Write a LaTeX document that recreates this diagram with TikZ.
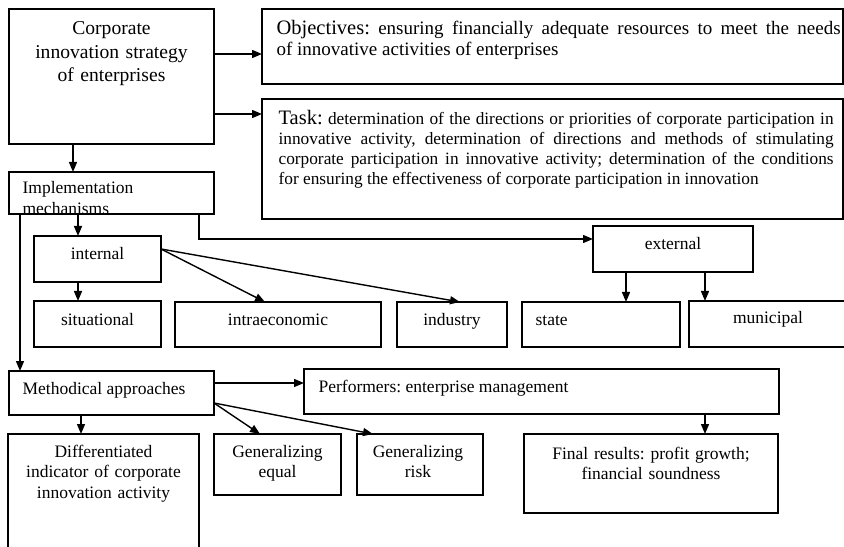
\documentclass[tikz,border=0pt]{standalone}
\usepackage{fontspec}
\setmainfont{Liberation Serif}
\usetikzlibrary{arrows.meta}

\begin{document}
\frenchspacing
\begin{tikzpicture}[x=1bp, y=-1bp, line width=1.2bp,
  box/.style={draw, inner sep=0, outer sep=0, anchor=north west},
  txt/.style={inner sep=0, font=\fontsize{17.5bp}{20.5bp}\selectfont},
  ctxt/.style={txt, anchor=base, text width=#1, align=center},
  arr/.style={-{Triangle[length=10bp,width=8bp]}, line width=1.4bp}]

\useasboundingbox (0,0) rectangle (844,547);
\fill[white] (0,0) rectangle (844,547);
\clip (0,0) rectangle (844,547);
\hyphenpenalty=10000

% ---------- boxes ----------
\node[box, minimum width=205bp, minimum height=135bp] (corp)     at (9,9)    {};
\node[box, minimum width=581bp, minimum height=75bp]  (obj)      at (262,9)  {};
\node[box, minimum width=581bp, minimum height=120bp] (task)     at (262,99) {};
\node[box, minimum width=205bp, minimum height=42bp]  (impl)     at (9,172)  {};
\node[box, minimum width=127bp, minimum height=46bp]  (internal) at (34,236) {};
\node[box, minimum width=127bp, minimum height=46bp]  (situ)     at (34,301) {};
\node[box, minimum width=206bp, minimum height=45bp]  (intra)    at (175,302) {};
\node[box, minimum width=110bp, minimum height=45bp]  (indus)    at (397,302) {};
\node[box, minimum width=158bp, minimum height=45bp]  (state)    at (522,302) {};
\node[box, minimum width=160bp, minimum height=46bp]  (munic)    at (689,301) {};
\node[box, minimum width=160bp, minimum height=46bp]  (external) at (593,226) {};
\node[box, minimum width=205bp, minimum height=44bp]  (meth)     at (9,371)  {};
\node[box, minimum width=475bp, minimum height=45bp]  (perf)     at (304,369) {};
\node[box, minimum width=191bp, minimum height=130bp] (diff)     at (8,434)  {};
\node[box, minimum width=127bp, minimum height=61bp]  (geneq)    at (214,434) {};
\node[box, minimum width=126bp, minimum height=61bp]  (genrisk)  at (357,434) {};
\node[box, minimum width=254bp, minimum height=79bp]  (final)    at (524,434) {};

% ---------- texts ----------
\node[ctxt=200bp, font=\fontsize{19.6bp}{23.5bp}\selectfont] (corpT) at (111.5,35)
  {Corporate\\innovation strategy\\of enterprises};

\node[txt, anchor=base west, text width=564bp, align=justify,
      font=\fontsize{19bp}{21bp}\selectfont] (objT) at (276,35)
  {{\fontsize{20.5bp}{21bp}\selectfont Objectives:} ensuring financially adequate resources to meet the needs\linebreak
   of innovative activities of enterprises};

\node[txt, anchor=base west, text width=555bp, align=justify,
      font=\fontsize{17.3bp}{20bp}\selectfont] (taskT) at (278,125)
  {{\fontsize{20.5bp}{20bp}\selectfont Task:} determination of the directions or priorities of corporate participation in\linebreak
   innovative activity, determination of directions and methods of stimulating\linebreak
   corporate participation in innovative activity; determination of the conditions\linebreak
   for ensuring the effectiveness of corporate participation in innovation};

\begin{scope}
  \clip (impl.north west) rectangle (impl.south east);
  \node[txt, anchor=base west, text width=190bp, align=left,
        font=\fontsize{17.5bp}{21bp}\selectfont] (implT) at (22,194)
    {Implementation\\mechanisms};
\end{scope}

\node[txt, anchor=base] (internalT) at (97.5,260) {internal};
\node[txt, anchor=base] (situT)     at (97.5,326) {situational};
\node[txt, anchor=base] (intraT)    at (278,326)  {intraeconomic};
\node[txt, anchor=base] (indusT)    at (452,326)  {industry};
\node[txt, anchor=base west] (stateT) at (535,326) {state};
\node[txt, anchor=base] (municT)    at (768,324)  {municipal};
\node[txt, anchor=base] (extT)      at (673,250)  {external};
\node[txt, anchor=base west] (methT) at (22,394)  {Methodical approaches};
\node[txt, anchor=base west] (perfT) at (318,392) {Performers: enterprise management};
\node[ctxt=185bp] (diffT)    at (103.5,457) {Differentiated\\indicator of corporate\\innovation activity};
\node[ctxt=120bp, font=\fontsize{17.5bp}{20bp}\selectfont] (geneqT)   at (277.5,457) {Generalizing\\equal};
\node[ctxt=120bp, font=\fontsize{17.5bp}{20bp}\selectfont] (genriskT) at (418,457)   {Generalizing\\risk};
\node[ctxt=250bp, font=\fontsize{17.5bp}{20bp}\selectfont] (finalT)   at (651,459)   {Final results: profit growth;\\financial soundness};

% ---------- connectors ----------
\draw[arr] (corp.east |- 0,54)  -- (obj.west |- 0,54);
\draw[arr] (corp.east |- 0,114) -- (task.west |- 0,114);
\draw[arr] (corp.south -| 73,0) -- (impl.north -| 73,0);

\draw[arr] (impl.south -| 78,0)  -- (internal.north -| 78,0);
\draw[arr] (impl.south -| 199,0) |- (external.west |- 0,239);
\draw[arr] (impl.south -| 20,0)  -- (meth.north -| 20,0);

\draw[arr] (internal.south -| 78,0) -- (situ.north -| 78,0);
\draw[arr] (internal.east |- 0,249) -- (intra.north -| 265,0);
\draw[arr] (internal.east |- 0,249) -- (indus.north -| 460,0);

\draw[arr] (external.south -| 626,0) -- (state.north -| 626,0);
\draw[arr] (external.south -| 705,0) -- (munic.north -| 705,0);

\draw[arr] (meth.east |- 0,383)  -- (perf.west |- 0,383);
\draw[arr] (meth.south -| 81,0)  -- (diff.north -| 81,0);
\draw[arr] (meth.east |- 0,403)  -- (geneq.north -| 260,0);
\draw[arr] (meth.east |- 0,403)  -- (genrisk.north -| 373,0);

\draw[arr] (perf.south -| 705,0) -- (final.north -| 705,0);
\end{tikzpicture}
\end{document}
